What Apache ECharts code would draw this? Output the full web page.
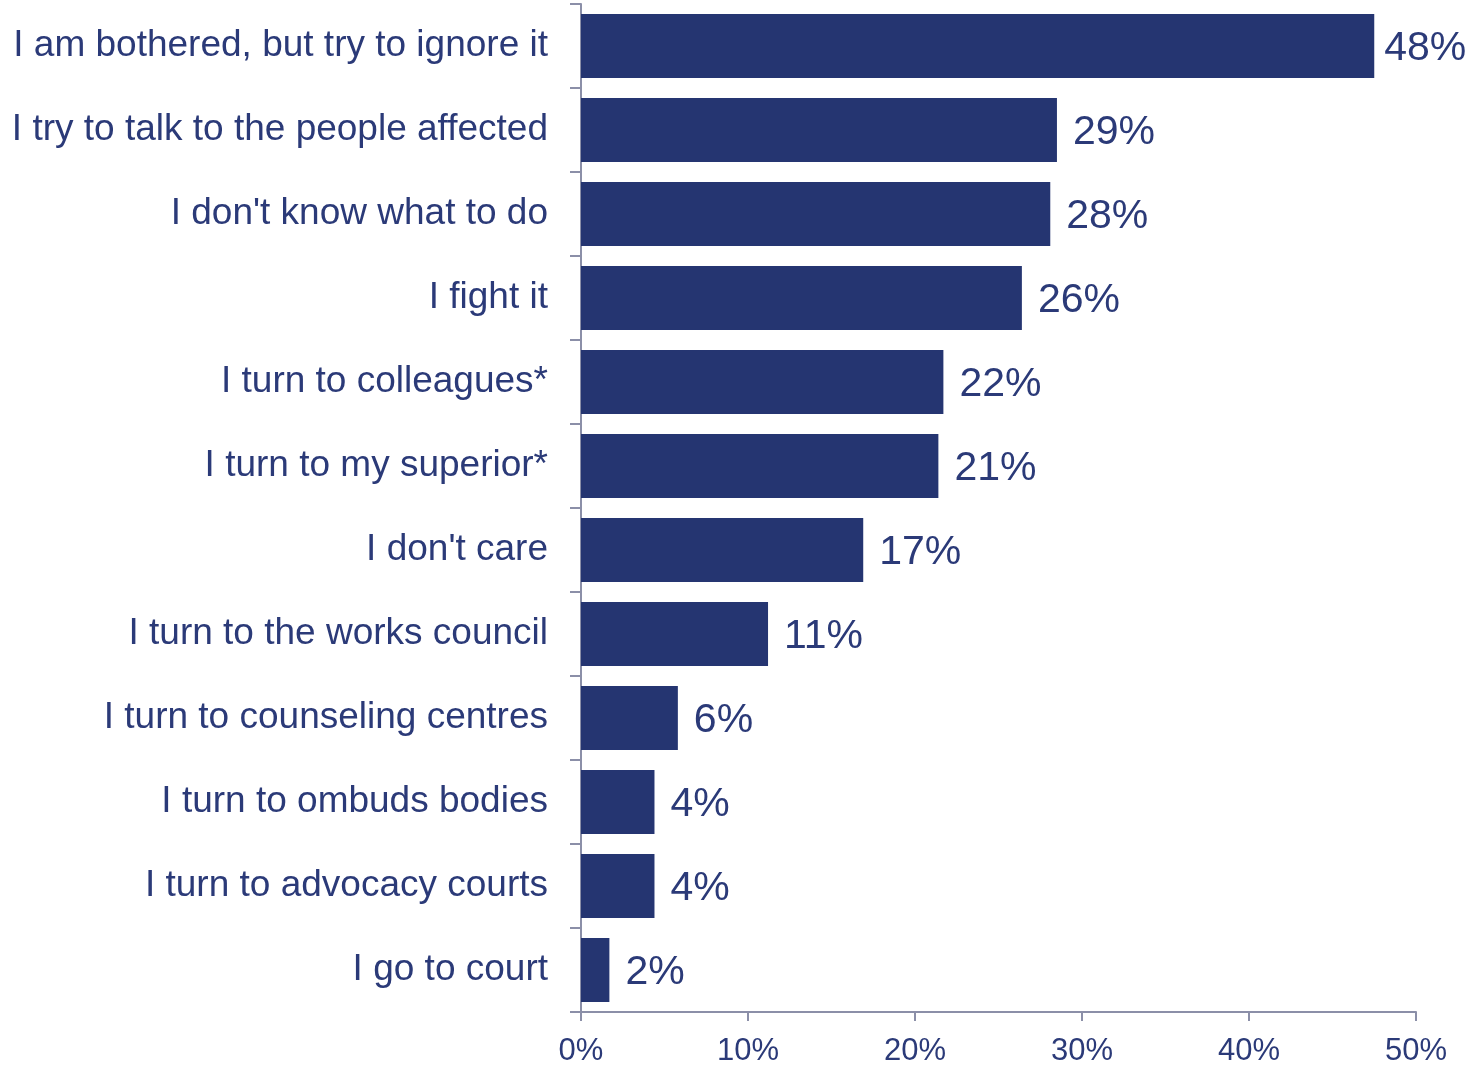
<!DOCTYPE html>
<html>
<head>
<meta charset="utf-8">
<script src="https://cdn.jsdelivr.net/npm/echarts@6/dist/echarts.min.js"></script>
<style>
html,body{margin:0;padding:0;background:#fff;}
#chart{width:1467px;height:1065px;}
</style>
</head>
<body>
<div id="chart"></div>
<script>
var categories = [
  "I am bothered, but try to ignore it",
  "I try to talk to the people affected",
  "I don't know what to do",
  "I fight it",
  "I turn to colleagues*",
  "I turn to my superior*",
  "I don't care",
  "I turn to the works council",
  "I turn to counseling centres",
  "I turn to ombuds bodies",
  "I turn to advocacy courts",
  "I go to court"
];
var values = [47.5, 28.5, 28.1, 26.4, 21.7, 21.4, 16.9, 11.2, 5.8, 4.4, 4.4, 1.7];
var xTicks = [0, 10, 20, 30, 40, 50];

var navy = '#253571';
var textColor = '#2b3a78';
var axisColor = '#8b8fa8';
var font = 'Liberation Sans, Arial, sans-serif';

var barData = values.map(function (v, i) {
  // the longest bar's label sits a little closer to fit inside the frame
  return i === 0 ? {value: v, label: {distance: 10}} : v;
});

var chart = echarts.init(document.getElementById('chart'));
chart.setOption({
  animation: false,
  grid: {left: 581, right: 51, top: 4, bottom: 53, containLabel: false, outerBoundsMode: 'none'},
  xAxis: {
    type: 'value',
    min: xTicks[0],
    max: xTicks[xTicks.length - 1],
    interval: 10,
    axisLine: {show: true, lineStyle: {color: axisColor, width: 2}},
    axisTick: {show: true, length: 9, lineStyle: {color: axisColor, width: 2}},
    splitLine: {show: false},
    axisLabel: {
      formatter: function (v) { return v + '%'; },
      fontFamily: font, fontSize: 31, color: textColor, margin: 24
    }
  },
  yAxis: {
    type: 'category',
    inverse: true,
    data: categories,
    axisLine: {show: true, lineStyle: {color: axisColor, width: 2}},
    axisTick: {show: true, length: 11, lineStyle: {color: axisColor, width: 2}},
    axisLabel: {fontFamily: font, fontSize: 37, color: textColor, margin: 33, padding: [9, 0, 0, 0]}
  },
  series: [{
    type: 'bar',
    data: barData,
    barCategoryGap: '24%',
    itemStyle: {color: navy},
    label: {
      show: true,
      position: 'right',
      distance: 16,
      offset: [0, 3],
      fontFamily: font,
      fontSize: 41,
      color: textColor,
      formatter: function (p) { return Math.round(p.value) + '%'; }
    }
  }]
});
</script>
</body>
</html>
